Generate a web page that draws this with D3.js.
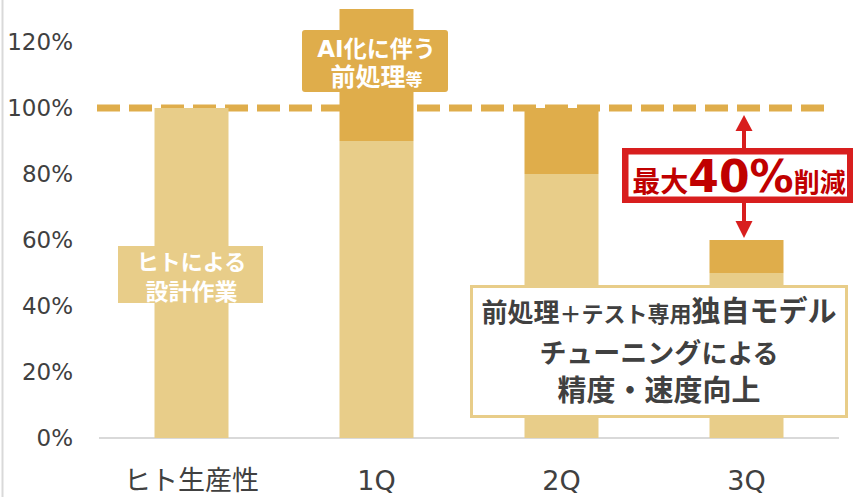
<!DOCTYPE html>
<html>
<head>
    <meta charset="utf-8" />
    <title></title>
    <style>
        body { margin: 0; background: #fff; }
        svg { display: block; }
        text { font-family: "DejaVu Sans", "Noto Sans CJK JP", sans-serif; }
    </style>
</head>
<body>
    <div id="chart"></div>
    <script src="https://cdn.jsdelivr.net/npm/d3@7"></script>
    <script>
        var width = 853;
        var height = 497;

        // data
        var categories = ["ヒト生産性", "1Q", "2Q", "3Q"];
        var humanPart = [1.0, 0.9, 0.8, 0.5];
        var aiPart = [0, 0.4, 0.2, 0.1];
        var yTicks = [0, 0.2, 0.4, 0.6, 0.8, 1.0, 1.2];
        var targetLine = 1.0;

        var lightColor = "#E8CD89";
        var darkColor = "#DFAD4B";

        var rows = categories.map((c, i) => ({ cat: c, human: humanPart[i], ai: aiPart[i] }));
        var series = d3.stack().keys(["human", "ai"])(rows);

        var x = d3.scaleBand()
            .domain(categories)
            .range([99, 839])
            .paddingInner(0.6)
            .paddingOuter(0.3);
        var y = d3.scaleLinear()
            .domain([0, 1.3])
            .range([438, 9]);

        const svg = d3.select("#chart")
            .append("svg")
            .attr("width", width)
            .attr("height", height);

        // left frame line
        svg.append("line")
            .attr("x1", 2.5).attr("x2", 2.5)
            .attr("y1", 0).attr("y2", height)
            .attr("stroke", "#d9d9d9")
            .attr("stroke-width", 2);

        // y axis labels
        svg.append("g")
            .attr("transform", "translate(73,0)")
            .call(d3.axisLeft(y).tickValues(yTicks).tickFormat(d3.format(".0%")).tickSize(0).tickPadding(0))
            .call(g => g.select(".domain").remove())
            .call(g => g.selectAll("text")
                .attr("font-size", 23)
                .attr("fill", "#404040")
                .attr("font-family", "'DejaVu Sans', sans-serif"));

        // baseline
        svg.append("line")
            .attr("x1", 99).attr("x2", 839)
            .attr("y1", y(0)).attr("y2", y(0))
            .attr("stroke", "#d9d9d9")
            .attr("stroke-width", 2);

        // 100% dashed line
        svg.append("line")
            .attr("x1", 97).attr("x2", 826)
            .attr("y1", y(targetLine)).attr("y2", y(targetLine))
            .attr("stroke", darkColor)
            .attr("stroke-width", 7)
            .attr("stroke-dasharray", "23,9");

        // stacked bars
        svg.append("g")
            .selectAll("g")
            .data(series)
            .join("g")
            .attr("fill", (d, i) => i === 0 ? lightColor : darkColor)
            .selectAll("rect")
            .data(d => d.filter(p => p[1] > p[0]))
            .join("rect")
            .attr("x", d => x(d.data.cat))
            .attr("width", x.bandwidth())
            .attr("y", d => y(d[1]))
            .attr("height", d => y(d[0]) - y(d[1]));

        // x labels
        svg.append("g")
            .attr("transform", "translate(0," + y(0) + ")")
            .call(d3.axisBottom(x).tickSize(0).tickPadding(0))
            .call(g => g.select(".domain").remove())
            .call(g => g.selectAll("text")
                .attr("dy", null)
                .attr("y", 52)
                .attr("font-size", 27)
                .attr("fill", "#404040"));

        // "ヒトによる設計作業" label
        var hx = x(categories[0]) + x.bandwidth() / 2;
        svg.append("rect")
            .attr("x", 118).attr("y", 246)
            .attr("width", 145).attr("height", 57)
            .attr("fill", lightColor);
        var ht = svg.append("text")
            .attr("text-anchor", "middle")
            .attr("fill", "#fff")
            .attr("font-weight", "bold");
        ht.append("tspan").attr("x", hx).attr("y", 270).attr("font-size", 22).text("ヒトによる");
        ht.append("tspan").attr("x", hx).attr("y", 300).attr("font-size", 23).text("設計作業");

        // "AI化に伴う前処理等" label
        var ax = x(categories[1]) + x.bandwidth() / 2;
        svg.append("rect")
            .attr("x", 302).attr("y", 30)
            .attr("width", 146).attr("height", 62)
            .attr("rx", 3)
            .attr("fill", darkColor);
        var at = svg.append("text")
            .attr("text-anchor", "middle")
            .attr("fill", "#fff")
            .attr("font-weight", "bold");
        at.append("tspan").attr("x", ax).attr("y", 57).attr("font-size", 23).text("AI化に伴う");
        var at2 = at.append("tspan").attr("x", ax).attr("y", 86);
        at2.append("tspan").attr("font-size", 25).text("前処理");
        at2.append("tspan").attr("font-size", 17).text("等");

        // red reduction arrow
        var arrowX = 744;
        var red = "#D81E1E";
        svg.append("line")
            .attr("x1", arrowX).attr("x2", arrowX)
            .attr("y1", 128).attr("y2", 150)
            .attr("stroke", red).attr("stroke-width", 4);
        svg.append("path")
            .attr("d", d3.line()([[arrowX, y(targetLine) + 7], [arrowX - 8.5, 131], [arrowX + 8.5, 131]]))
            .attr("fill", red);
        svg.append("line")
            .attr("x1", arrowX).attr("x2", arrowX)
            .attr("y1", 200).attr("y2", 224)
            .attr("stroke", red).attr("stroke-width", 4);
        svg.append("path")
            .attr("d", d3.line()([[arrowX, y(humanPart[3] + aiPart[3]) - 2], [arrowX - 8.5, 221], [arrowX + 8.5, 221]]))
            .attr("fill", red);

        svg.append("rect")
            .attr("x", 625.25).attr("y", 151.25)
            .attr("width", 225).attr("height", 48.5)
            .attr("fill", "#fff")
            .attr("stroke", red)
            .attr("stroke-width", 6.5);
        var rt = svg.append("text")
            .attr("x", 739).attr("y", 192)
            .attr("text-anchor", "middle")
            .attr("fill", "#C00000")
            .attr("font-weight", "bold");
        rt.append("tspan").attr("font-size", 28).text("最大");
        rt.append("tspan").attr("font-size", 44).text("40%");
        rt.append("tspan").attr("font-size", 26).text("削減");

        // description box
        svg.append("rect")
            .attr("x", 471.5).attr("y", 286.5)
            .attr("width", 375).attr("height", 130)
            .attr("fill", "#fff")
            .attr("stroke", lightColor)
            .attr("stroke-width", 3);
        var bx = 659;
        var bt = svg.append("text")
            .attr("text-anchor", "middle")
            .attr("fill", "#404040")
            .attr("font-weight", "bold");
        var l1 = bt.append("tspan").attr("x", bx).attr("y", 322);
        l1.append("tspan").attr("font-size", 26).text("前処理");
        l1.append("tspan").attr("font-size", 22).text("＋テスト専用");
        l1.append("tspan").attr("font-size", 29).text("独自モデル");
        var l2 = bt.append("tspan").attr("x", bx).attr("y", 363);
        l2.append("tspan").attr("font-size", 27).text("チューニング");
        l2.append("tspan").attr("font-size", 26).text("による");
        bt.append("tspan").attr("x", bx).attr("y", 401).attr("font-size", 29).text("精度・速度向上");
    </script>
</body>
</html>
